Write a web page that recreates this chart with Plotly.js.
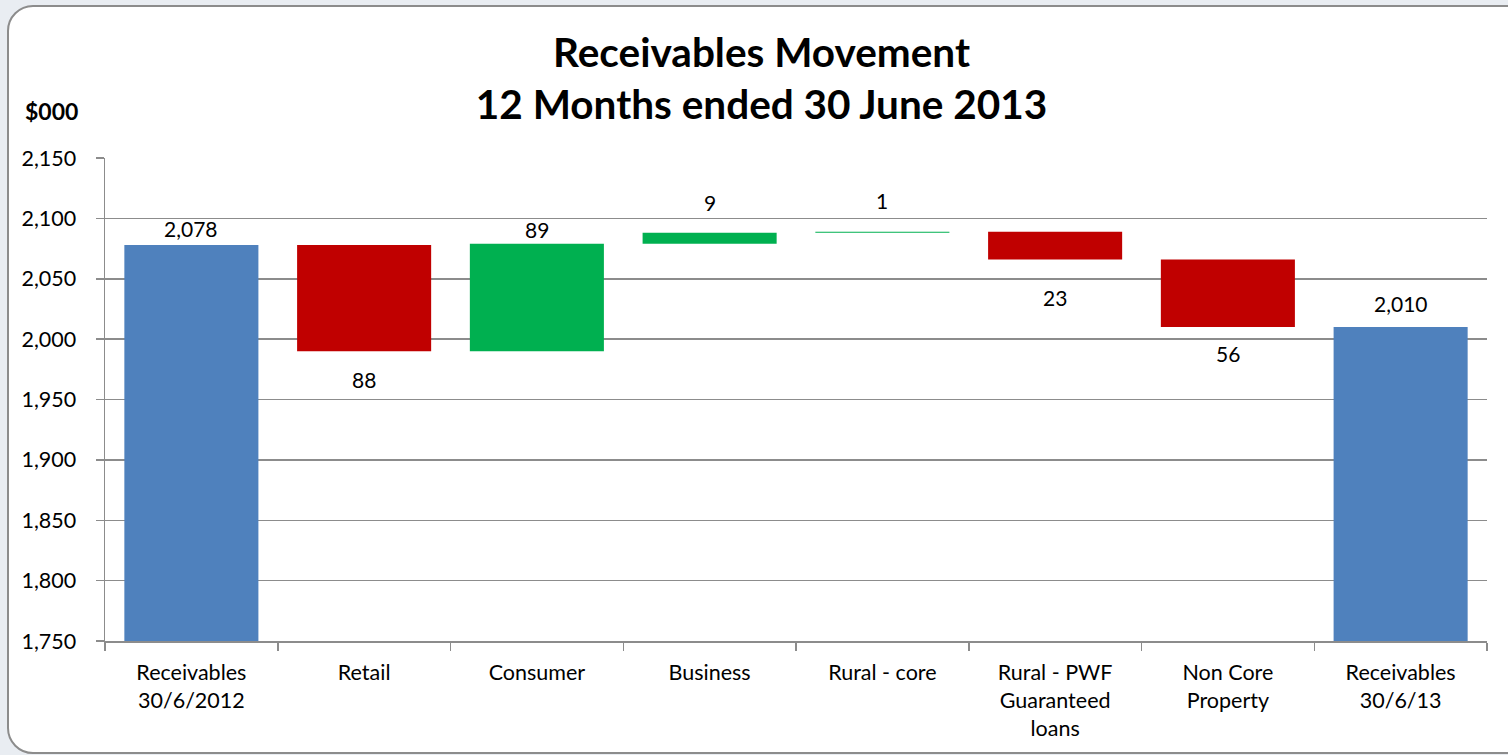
<!DOCTYPE html>
<html>
<head>
<meta charset="utf-8">
<script src="https://cdn.plot.ly/plotly-3.0.1.min.js"></script>
<style>
  html, body { margin: 0; padding: 0; background: #e9edf2; overflow: hidden; width: 1508px; height: 755px; }
  #frame { position: absolute; left: 7px; top: 5px; width: 1530px; height: 749px;
           background: #ffffff; border: 2px solid #8c8c8c; border-radius: 26px; box-sizing: border-box; }
  #chart { position: absolute; left: 0; top: 0; width: 1508px; height: 755px; }
</style>
</head>
<body>
<div id="frame"></div>
<div id="chart"></div>
<script>
// ---- data ----
const categories = ["Receivables<br>30/6/2012", "Retail", "Consumer", "Business", "Rural - core",
                    "Rural - PWF<br>Guaranteed<br>loans", "Non Core<br>Property", "Receivables<br>30/6/13"];
const measures = ["total", "relative", "relative", "relative", "relative", "relative", "relative", "total"];
const values = [2078, -88, 89, 9, 1, -23, -56, 2010];
const labelTexts = ["2,078", "88", "89", "9", "1", "23", "56", "2,010"];
const yTickVals = [1750, 1800, 1850, 1900, 1950, 2000, 2050, 2100, 2150];

// ---- style ----
const FONT = "Lato, 'Open Sans', sans-serif";
const colTotal = "#4f81bd", colUp = "#00b050", colDown = "#c00000";
const labelShift = [16, 28, 14, 30, 31, 38, 26, 24];

// compute bases / heights from data
const bases = [], heights = [], colors = [], labelY = [], labelDir = [];
let running = 0;
for (let i = 0; i < values.length; i++) {
  const v = values[i];
  if (measures[i] === "total") {
    bases.push(yTickVals[0]);
    heights.push(v - yTickVals[0]);
    colors.push(colTotal);
    running = v;
    labelY.push(v); labelDir.push(1);
  } else if (v >= 0) {
    bases.push(running); heights.push(v); colors.push(colUp);
    running += v;
    labelY.push(running); labelDir.push(1);
  } else {
    bases.push(running + v); heights.push(-v); colors.push(colDown);
    running += v;
    labelY.push(running); labelDir.push(-1);
  }
}

const trace = {
  type: "bar",
  x: categories,
  y: heights,
  base: bases,
  marker: { color: colors, line: { width: 0 } },
  hoverinfo: "skip"
};

const annotations = categories.map((c, i) => ({
  x: c, y: labelY[i], xref: "x", yref: "y",
  text: labelTexts[i], showarrow: false,
  yanchor: "middle", yshift: labelDir[i] * labelShift[i],
  font: { family: FONT, size: 21, color: "#000" }
}));
annotations.push({
  xref: "paper", yref: "paper", x: -0.0594, y: 1.0, xanchor: "left", yanchor: "bottom",
  yshift: 31, text: "<b>$000</b>", showarrow: false,
  font: { family: FONT, size: 23, color: "#000" }
});

const layout = {
  width: 1508, height: 755,
  margin: { l: 105, r: 21, t: 158, b: 114, pad: 0 },
  paper_bgcolor: "rgba(0,0,0,0)",
  plot_bgcolor: "rgba(0,0,0,0)",
  showlegend: false,
  bargap: 0.224,
  title: {
    text: "<b>Receivables Movement<br>12 Months ended 30 June 2013</b>",
    x: 0.505, xanchor: "center", y: 0.9116, yanchor: "middle",
    font: { family: FONT, size: 40.5, color: "#000" }
  },
  xaxis: {
    type: "category",
    tickson: "boundaries",
    ticks: "outside", ticklen: 8, tickwidth: 1.5, tickcolor: "#8c8c8c",
    ticklabelstandoff: 12,
    showline: true, linecolor: "#8c8c8c", linewidth: 1.5,
    showgrid: false,
    tickfont: { family: FONT, size: 21.5, color: "#000" },
    fixedrange: true
  },
  yaxis: {
    range: [1750, 2150],
    tickvals: yTickVals,
    ticktext: yTickVals.map(v => v.toLocaleString("en-US")),
    ticks: "outside", ticklen: 8, tickwidth: 1.5, tickcolor: "#8c8c8c",
    ticklabelstandoff: 15,
    showline: true, linecolor: "#8c8c8c", linewidth: 1.5,
    showgrid: true, gridcolor: "#8c8c8c", gridwidth: 1.5,
    zeroline: false,
    tickfont: { family: FONT, size: 21.5, color: "#000" },
    fixedrange: true
  },
  annotations: annotations
};

Plotly.newPlot("chart", [trace], layout, { displayModeBar: false, staticPlot: true });
</script>
</body>
</html>
